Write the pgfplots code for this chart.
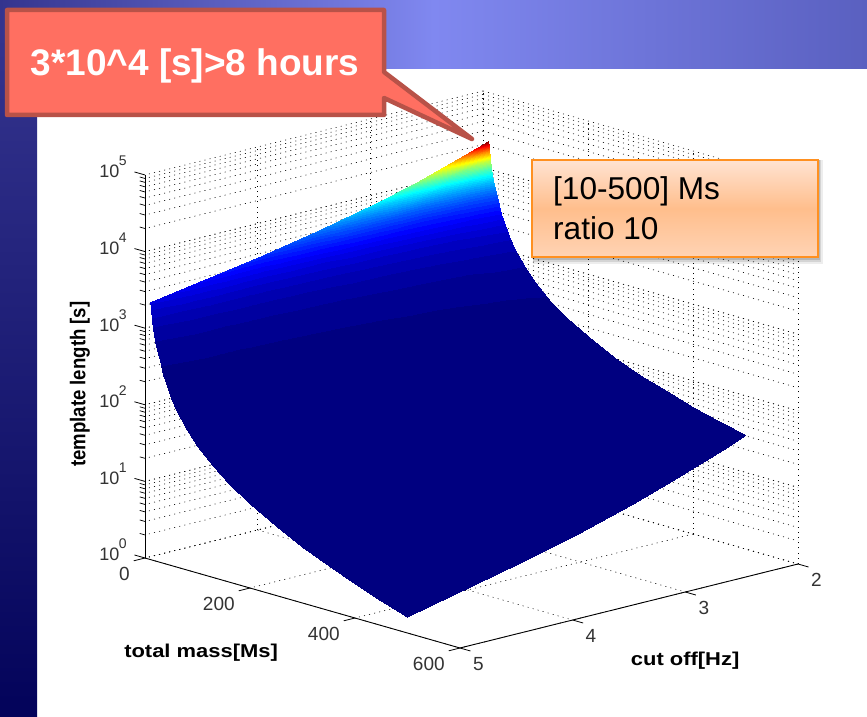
\documentclass[border=0pt]{standalone}
\usepackage{fontspec}
\setmainfont{Liberation Sans}
\usepackage{pgfplots}
\pgfplotsset{compat=1.18}
\usepgfplotslibrary{patchplots}
\usetikzlibrary{shadows}
\definecolor{bandL}{HTML}{34348E}
\definecolor{bandM}{HTML}{8088F0}
\definecolor{bandR}{HTML}{5A60C0}
\definecolor{navyB}{HTML}{03035A}
\definecolor{redF}{HTML}{FF6F61}
\definecolor{redD}{HTML}{B85248}
\definecolor{orB}{HTML}{FF9020}
\definecolor{orM}{HTML}{FFBE8C}
\definecolor{orT}{HTML}{FFE3D2}
\definecolor{orU}{HTML}{FFD3B4}
\newcommand{\zl}[1]{10\kern-0.5pt\raisebox{12pt}{\fontsize{14}{14}\selectfont #1}}
\pgfplotsset{colormap/jet,colormap={jet64}{samples of colormap=(64 of jet)}}
\begin{document}
\begin{tikzpicture}[x=1pt,y=1pt]
\path[use as bounding box] (0,0) rectangle (867,716);
\fill[white] (0,0) rectangle (867,716);
\shade[left color=bandL,right color=bandR,middle color=bandM] (0,647) rectangle (867,716);
\shade[bottom color=navyB,top color=bandL] (0,0) rectangle (37,680);
\begin{axis}[
  anchor=origin, at={(483pt,242pt)},
  x={(0.525pt,-0.15pt)}, y={(112.67pt,28pt)}, z={(0pt,33.27pt)},
  y dir=reverse,
  zmode=log, clip=false,
  xmin=0,xmax=600,ymin=2,ymax=5,zmin=1,zmax=100000,
  xtick={0,200,400,600}, ytick={2,3,4,5},
  ztick={1,10,100,1000,10000,100000},
  zticklabels={\zl{0},\zl{1},\zl{2},\zl{3},\zl{4},\zl{5}},
  /pgf/number format/assume math mode=true,
  tick label style={font=\fontsize{19}{19}\selectfont,text=black!80},
  xticklabel style={anchor=north east,inner sep=0pt,xshift=-3.5pt,yshift=-6pt},
  yticklabel style={xshift=-1pt,yshift=-2.5pt},
  zticklabel style={anchor=base east,inner sep=0pt,font=\fontsize{18}{18}\selectfont,xshift=-6.5pt,yshift=0pt},
  grid=both,
  major grid style={black,line width=.6pt,dash pattern=on 1pt off 4.2pt},
  minor grid style={black,line width=.6pt,dash pattern=on 1pt off 4.2pt},
  axis line style={draw=none},
  tick style={draw=none},
  tick align=outside,
  major tick length=12pt, minor tick length=6pt,
  xlabel={total mass[Ms]}, ylabel={cut off[Hz]}, zlabel={template length [s]},
  label style={font=\bfseries\fontsize{18.6}{18.6}\selectfont,text=black},
  xlabel style={at={(axis cs:388,6.31,1)},anchor=center,rotate=0,xscale=1.18},
  ylabel style={at={(axis cs:846,4.148,1)},anchor=center,rotate=0,xscale=1.18},
  zlabel style={at={(axis cs:0,5.577,302)},anchor=center,rotate=0,yscale=1.15},
  colormap name=jet64,
  colormap access=piecewise constant,
  point meta min=0, point meta max=23442,
]
\addplot3[surf,shader=interp,mesh/ordering=y varies,mesh/rows=8,mesh/cols=26,point meta=\thisrow{t}] table {
M f t
10 2 23442
10 2.2 18433
10 2.4 14806
10 2.65 11533
10 3 8439
10 3.5 5722
10 4 4086
10 5 2330

11 2 20000
11 2.2 15726
11 2.4 12632
11 2.65 9840
11 3 7200
11 3.5 4882
11 4 3486
11 5 1988

12 2 17295
12 2.2 13599
12 2.4 10924
12 2.65 8509
12 3 6226
12 3.5 4222
12 4 3015
12 5 1719

13 2 15134
13 2.2 11900
13 2.4 9559
13 2.65 7446
13 3 5448
13 3.5 3694
13 4 2638
13 5 1504

14 2 13381
14 2.2 10522
14 2.4 8451
14 2.65 6583
14 3 4817
14 3.5 3266
14 4 2332
14 5 1330

16 2 10711
16 2.2 8422
16 2.4 6765
16 2.65 5270
16 3 3856
16 3.5 2615
16 4 1867
16 5 1065

18 2 8802
18 2.2 6921
18 2.4 5559
18 2.65 4331
18 3 3169
18 3.5 2149
18 4 1534
18 5 875

20 2 7384
20 2.2 5806
20 2.4 4664
20 2.65 3633
20 3 2658
20 3.5 1802
20 4 1287
20 5 734

23 2 5849
23 2.2 4599
23 2.4 3694
23 2.65 2878
23 3 2106
23 3.5 1428
23 4 1019
23 5 581

26 2 4768
26 2.2 3749
26 2.4 3011
26 2.65 2346
26 3 1716
26 3.5 1164
26 4 831
26 5 474

30 2 3758
30 2.2 2955
30 2.4 2374
30 2.65 1849
30 3 1353
30 3.5 917
30 4 655
30 5 374

35 2 2907
35 2.2 2286
35 2.4 1836
35 2.65 1430
35 3 1047
35 3.5 710
35 4 507
35 5 289

40 2 2325
40 2.2 1828
40 2.4 1468
40 2.65 1144
40 3 837
40 3.5 568
40 4 405
40 5 231

50 2 1593
50 2.2 1250
50 2.4 1002
50 2.65 778
50 3 568
50 3.5 383
50 4 272
50 5 153

60 2 1176
60 2.2 922
60 2.4 738
60 2.65 573
60 3 417
60 3.5 281
60 4 199
60 5 112

80 2 725
80 2.2 568
80 2.4 455
80 2.65 352
80 3 256
80 3.5 172
80 4 122
80 5 67.9

100 2 498
100 2.2 389
100 2.4 311
100 2.65 240
100 3 175
100 3.5 117
100 4 82.3
100 5 45.7

130 2 319
130 2.2 249
130 2.4 199
130 2.65 153
130 3 111
130 3.5 73.8
130 4 51.7
130 5 28.4

160 2 225
160 2.2 175
160 2.4 139
160 2.65 107
160 3 77.1
160 3.5 51
160 4 35.5
160 5 19.3

200 2 154
200 2.2 119
200 2.4 94.6
200 2.65 72.5
200 3 51.9
200 3.5 34
200 4 23.5
200 5 12.5

250 2 105
250 2.2 80.9
250 2.4 63.9
250 2.65 48.7
250 3 34.6
250 3.5 22.4
250 4 15.3
250 5 8.0

300 2 76.4
300 2.2 58.7
300 2.4 46.1
300 2.65 34.9
300 3 24.6
300 3.5 15.8
300 4 10.6
300 5 5.44

350 2 58.2
350 2.2 44.5
350 2.4 34.8
350 2.65 26.2
350 3 18.3
350 3.5 11.6
350 4 7.74
350 5 3.86

400 2 45.9
400 2.2 35
400 2.4 27.2
400 2.65 20.3
400 3 14.1
400 3.5 8.8
400 4 5.81
400 5 2.82

450 2 37.2
450 2.2 28.2
450 2.4 21.8
450 2.65 16.3
450 3 11.1
450 3.5 6.9
450 4 4.47
450 5 2.11

500 2 30.8
500 2.2 23.2
500 2.4 17.9
500 2.65 13.2
500 3 8.99
500 3.5 5.46
500 4 3.5
500 5 1.61
};
\draw[black,line width=.9pt] (axis cs:0,5,1)--(axis cs:600,5,1)--(axis cs:600,2,1);
\draw[black,line width=.9pt] (axis cs:0,5,1)--(axis cs:0,5,100000);
\pgfplotsinvokeforeach{0,200,400,600}{\draw[black,line width=.8pt] (axis cs:#1,5,1)--(axis cs:#1,5.1,1);}
\pgfplotsinvokeforeach{2,3,4,5}{\draw[black,line width=.8pt] (axis cs:600,#1,1)--(axis cs:620,#1,1);}
\pgfplotsinvokeforeach{1,10,100,1000,10000,100000}{\draw[black,line width=.8pt] (axis cs:-20,5,#1)--(axis cs:0,5,#1);}
\pgfplotsinvokeforeach{2,3,4,5,6,7,8,9,20,30,40,50,60,70,80,90,200,300,400,500,600,700,800,900,2000,3000,4000,5000,6000,7000,8000,9000,20000,30000,40000,50000,60000,70000,80000,90000}{\draw[black,line width=.7pt] (axis cs:-10,5,#1)--(axis cs:0,5,#1);}
\end{axis}
% callouts
\fill[black,opacity=.07] (533,452) rectangle (823,556);
\fill[black,opacity=.10] (533,454) rectangle (821,556);
\fill[black,opacity=.14] (533,456) rectangle (820,556);
\shade[top color=orT,bottom color=orU,middle color=orM,draw=orB,line width=2pt] (532,459) rectangle (818,556);
\node[anchor=base west,font=\fontsize{31.6}{31.6}\selectfont,inner sep=0pt] at (553,516) {[10-500] Ms};
\node[anchor=base west,font=\fontsize{31.6}{31.6}\selectfont,inner sep=0pt] at (553,476) {ratio 10};
\draw[draw=redD,fill=redF,line width=4.5pt,line join=round] (7,601)--(7,706)--(384,706)--(384,644)--(472,577)--(384,618)--(384,601)--cycle;
\node[font=\bfseries\fontsize{37}{37}\selectfont,text=white,inner sep=0pt] at (195,650) {3*10\^{}4 [s]>8 hours};
\end{tikzpicture}
\end{document}
